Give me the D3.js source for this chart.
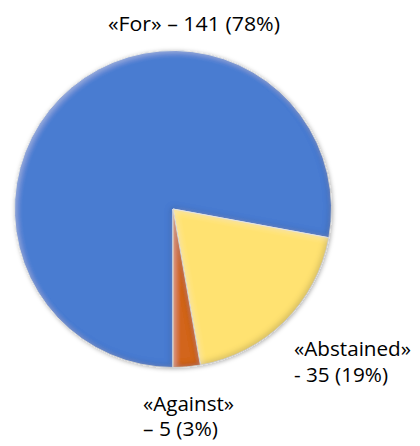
<!DOCTYPE html>
<html><head><meta charset="utf-8">
<script src="https://cdn.jsdelivr.net/npm/d3@7/dist/d3.min.js"></script>
<style>html,body{margin:0;padding:0;background:#fff;}</style>
</head><body>
<svg id="chart" width="420" height="446"></svg>
<script>
const categories = ["«For»", "«Abstained»", "«Against»"];
const values = [141, 35, 5];
const labelLine1 = ["«For» – 141 (78%)", "«Abstained»", "«Against»"];
const labelLine2 = ["", "- 35 (19%)", "– 5 (3%)"];
const colors = ["#4a7bd1", "#ffe271", "#d2651a"];

const svg = d3.select("#chart");
const cx = 173, cy = 209, r = 158.5;
const defs = svg.append("defs");

// bevel / inner shadow filter
const f = defs.append("filter").attr("id", "bevel").attr("x", "-10%").attr("y", "-10%").attr("width", "120%").attr("height", "120%");
f.append("feGaussianBlur").attr("in", "SourceAlpha").attr("stdDeviation", 3).attr("result", "blur");
f.append("feOffset").attr("in", "blur").attr("dx", -2).attr("dy", -2).attr("result", "off");
f.append("feComposite").attr("in", "SourceAlpha").attr("in2", "off").attr("operator", "out").attr("result", "edge");
f.append("feFlood").attr("flood-color", "#000").attr("flood-opacity", 0.4).attr("result", "col");
f.append("feComposite").attr("in", "col").attr("in2", "edge").attr("operator", "in").attr("result", "shadowEdge");
f.append("feComposite").attr("in", "shadowEdge").attr("in2", "SourceAlpha").attr("operator", "in").attr("result", "inner");
f.append("feOffset").attr("in", "blur").attr("dx", 2).attr("dy", 2).attr("result", "off2");
f.append("feComposite").attr("in", "SourceAlpha").attr("in2", "off2").attr("operator", "out").attr("result", "edge2");
f.append("feFlood").attr("flood-color", "#fff").attr("flood-opacity", 0.35).attr("result", "col2");
f.append("feComposite").attr("in", "col2").attr("in2", "edge2").attr("operator", "in").attr("result", "hl");
f.append("feComposite").attr("in", "hl").attr("in2", "SourceAlpha").attr("operator", "in").attr("result", "inner2");
const m = f.append("feMerge");
m.append("feMergeNode").attr("in", "SourceGraphic");
m.append("feMergeNode").attr("in", "inner");
m.append("feMergeNode").attr("in", "inner2");

// outer soft shadow
const sh = defs.append("filter").attr("id", "shadow").attr("x", "-10%").attr("y", "-10%").attr("width", "120%").attr("height", "120%");
sh.append("feGaussianBlur").attr("in", "SourceAlpha").attr("stdDeviation", 2).attr("result", "b");
sh.append("feOffset").attr("in", "b").attr("dx", 1).attr("dy", 1).attr("result", "o");
sh.append("feFlood").attr("flood-color", "#000").attr("flood-opacity", 0.3);
sh.append("feComposite").attr("in2", "o").attr("operator", "in").attr("result", "s");
const m2 = sh.append("feMerge");
m2.append("feMergeNode").attr("in", "s");
m2.append("feMergeNode").attr("in", "SourceGraphic");

const pie = d3.pie().sort(null).startAngle(Math.PI).endAngle(3 * Math.PI);
const arcs = pie(values);
const arc = d3.arc().innerRadius(0).outerRadius(r);

const g = svg.append("g").attr("transform", `translate(${cx},${cy})`).attr("filter", "url(#shadow)");
g.selectAll("path").data(arcs).join("path")
  .attr("d", arc)
  .attr("fill", (d, i) => colors[i])
  .attr("stroke", "#e6e6e6")
  .attr("stroke-width", 1)
  .attr("filter", "url(#bevel)");

// labels
const font = "'Open Sans', 'Liberation Sans', sans-serif";
const fs = 20;
const lab = [
  {x: 108, y: 31, w: 172, t: labelLine1[0]},
  {x: 294, y: 356, w: 117, t: labelLine1[1]},
  {x: 294, y: 382, w: 94, t: labelLine2[1]},
  {x: 143, y: 411, w: 91, t: labelLine1[2]},
  {x: 143, y: 436, w: 75, t: labelLine2[2]}
];
svg.selectAll("text.lbl").data(lab).join("text")
  .attr("class", "lbl")
  .attr("x", d => d.x).attr("y", d => d.y)
  .attr("font-family", font).attr("font-size", fs)
  .attr("fill", "#000")
  .attr("textLength", d => d.w).attr("lengthAdjust", "spacingAndGlyphs")
  .text(d => d.t);
</script>
</body></html>
